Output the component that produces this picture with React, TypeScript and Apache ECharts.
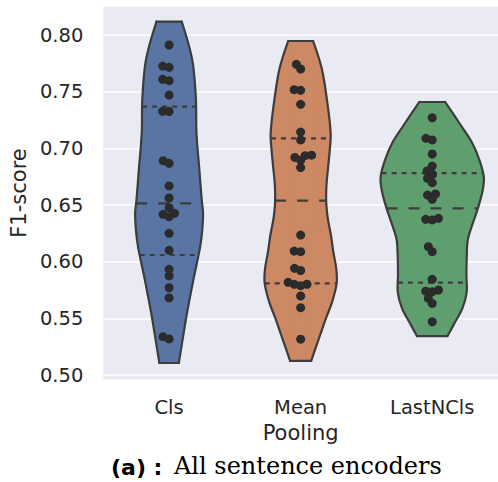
import React, { useEffect, useRef } from "react";
import * as echarts from "echarts";

const categories = ["Cls", "Mean", "LastNCls"];
const violinColors = ["#5975a4", "#cc8963", "#5f9e6e"];

// F1-scores of the individual encoders (swarm points)
const clsScores = [0.7912, 0.7726, 0.7715, 0.7609, 0.7597, 0.747, 0.7327, 0.7325, 0.6891, 0.6868, 0.6668, 0.6562, 0.6476, 0.6418, 0.6397, 0.6427, 0.625, 0.61, 0.5933, 0.5874, 0.577, 0.568, 0.5338, 0.5318];
const meanScores = [0.7741, 0.77, 0.7518, 0.7512, 0.7388, 0.7144, 0.7074, 0.6935, 0.692, 0.6895, 0.694, 0.683, 0.6235, 0.6094, 0.6088, 0.5941, 0.5922, 0.5818, 0.58, 0.5788, 0.5801, 0.5697, 0.5594, 0.5316];
const lastScores = [0.727, 0.7088, 0.7074, 0.695, 0.6844, 0.68, 0.6735, 0.677, 0.6697, 0.6588, 0.6597, 0.655, 0.6374, 0.6368, 0.6383, 0.6132, 0.6088, 0.5844, 0.575, 0.5735, 0.574, 0.5676, 0.5632, 0.547];

// violin outline: score levels (top to bottom) and relative density at each level
const clsProfileValues = [0.8119, 0.7883, 0.772, 0.7426, 0.7133, 0.6838, 0.6544, 0.6429, 0.6279, 0.6132, 0.5838, 0.5547, 0.525, 0.5106];
const clsProfileDensity = [0.24, 0.39, 0.46, 0.51, 0.52, 0.57, 0.62, 0.645, 0.63, 0.59, 0.46, 0.34, 0.235, 0.185];
const meanProfileValues = [0.7947, 0.7706, 0.7426, 0.7135, 0.697, 0.6824, 0.6676, 0.6529, 0.6383, 0.6235, 0.6088, 0.5944, 0.5812, 0.5647, 0.55, 0.5353, 0.5206, 0.5124];
const meanProfileDensity = [0.237, 0.4, 0.5, 0.57, 0.55, 0.52, 0.49, 0.485, 0.515, 0.575, 0.62, 0.675, 0.685, 0.6, 0.48, 0.37, 0.26, 0.2];
const lastProfileValues = [0.7409, 0.7206, 0.7056, 0.6906, 0.675, 0.6632, 0.6474, 0.6324, 0.6191, 0.6032, 0.5882, 0.5732, 0.5591, 0.5459, 0.5344];
const lastProfileDensity = [0.246, 0.54, 0.75, 0.89, 0.98, 0.96, 0.87, 0.76, 0.675, 0.655, 0.65, 0.655, 0.575, 0.425, 0.29];

// quartiles [Q1, median, Q3]
const clsQuartiles = [0.6059, 0.6515, 0.7368];
const meanQuartiles = [0.5809, 0.6538, 0.7088];
const lastQuartiles = [0.5815, 0.6471, 0.6782];

const yMin = 0.4956;
const yMax = 0.8256;

const scores = [clsScores, meanScores, lastScores];
const profileValues = [clsProfileValues, meanProfileValues, lastProfileValues];
const profileDensity = [clsProfileDensity, meanProfileDensity, lastProfileDensity];
const quartiles = [clsQuartiles, meanQuartiles, lastQuartiles];

const EDGE = "#3d3d3d";
const DOT = "#2b2b2b";

function densityAt(vals: number[], dens: number[], v: number): number {
  for (let i = 0; i < vals.length - 1; i++) {
    const a = vals[i], b = vals[i + 1];
    if ((v <= a && v >= b) || (v >= a && v <= b)) {
      const t = (v - a) / (b - a);
      return dens[i] + t * (dens[i + 1] - dens[i]);
    }
  }
  return 0;
}

function swarm(ys: number[], values: number[], d: number): number[] {
  const order = values.map((_, i) => i).sort((a, b) => values[a] - values[b]);
  const placed: { x: number; y: number }[] = [];
  const offs: number[] = new Array(ys.length).fill(0);
  for (const idx of order) {
    const y = ys[idx];
    const neighbors = placed.filter((p) => Math.abs(p.y - y) < d);
    const cands: number[] = [0];
    let leftFirst = true;
    for (const n of neighbors) {
      const dy = y - n.y;
      const dx = Math.sqrt(Math.max(d * d - dy * dy, 0)) * 1.05;
      const cl = n.x - dx, cr = n.x + dx;
      if (leftFirst) cands.push(cl, cr);
      else cands.push(cr, cl);
      leftFirst = !leftFirst;
    }
    const sorted = cands.map((c, i) => ({ c, i })).sort((a, b) => Math.abs(a.c) - Math.abs(b.c) || a.i - b.i);
    let chosen = sorted[0].c;
    for (const s of sorted) {
      const ok = neighbors.every((n) => Math.hypot(n.x - s.c, n.y - y) >= d * 0.999);
      if (ok) {
        chosen = s.c;
        break;
      }
    }
    placed.push({ x: chosen, y });
    offs[idx] = chosen;
  }
  return offs;
}

function makeSeries(ci: number) {
  return {
    type: "custom",
    coordinateSystem: "cartesian2d",
    clip: false,
    data: [[ci, quartiles[ci][1]]],
    encode: { x: 0, y: 1 },
    renderItem: (params: any, api: any) => {
      const band = api.size([1, 0])[0];
      const maxHalf = band * 0.4;
      const vals = profileValues[ci];
      const dens = profileDensity[ci];
      const cx = api.coord([ci, vals[0]])[0];
      const right: number[][] = [];
      const left: number[][] = [];
      for (let i = 0; i < vals.length; i++) {
        const p = api.coord([ci, vals[i]]);
        right.push([cx + dens[i] * maxHalf, p[1]]);
        left.push([cx - dens[i] * maxHalf, p[1]]);
      }
      const n = vals.length;
      const topY = right[0][1];
      const botY = right[n - 1][1];
      const leftUp = left.slice().reverse();
      const children: any[] = [
        // fill
        {
          type: "polygon",
          shape: { points: right.concat(leftUp), smooth: 0 },
          style: { fill: violinColors[ci], stroke: violinColors[ci], lineWidth: 1 },
        },
        // smooth right and left sides
        {
          type: "polyline",
          shape: { points: right, smooth: 0.35 },
          style: { fill: violinColors[ci], stroke: "none" },
        },
        {
          type: "polyline",
          shape: { points: left, smooth: 0.35 },
          style: { fill: violinColors[ci], stroke: "none" },
        },
        {
          type: "polyline",
          shape: { points: right, smooth: 0.35 },
          style: { fill: "none", stroke: EDGE, lineWidth: 2.2, lineCap: "round" },
        },
        {
          type: "polyline",
          shape: { points: left, smooth: 0.35 },
          style: { fill: "none", stroke: EDGE, lineWidth: 2.2, lineCap: "round" },
        },
        {
          type: "line",
          shape: { x1: left[0][0], y1: topY, x2: right[0][0], y2: topY },
          style: { stroke: EDGE, lineWidth: 2.2, lineCap: "round" },
        },
        {
          type: "line",
          shape: { x1: left[n - 1][0], y1: botY, x2: right[n - 1][0], y2: botY },
          style: { stroke: EDGE, lineWidth: 2.2, lineCap: "round" },
        },
      ];
      quartiles[ci].forEach((q, qi) => {
        const hw = densityAt(vals, dens, q) * maxHalf;
        const y = api.coord([ci, q])[1];
        children.push({
          type: "line",
          shape: { x1: cx - hw, y1: y, x2: cx + hw, y2: y },
          style: { stroke: EDGE, lineWidth: 2.2, lineDash: qi === 1 ? [11, 11] : [5, 5] },
        });
      });
      const ys = scores[ci].map((v) => api.coord([ci, v])[1]);
      const offs = swarm(ys, scores[ci], 6.2);
      ys.forEach((y, i) => {
        children.push({
          type: "circle",
          shape: { cx: cx + offs[i], cy: y, r: 4.5 },
          style: { fill: DOT },
        });
      });
      return { type: "group", children };
    },
  };
}

export default function App() {
  const ref = useRef<HTMLDivElement>(null);
  useEffect(() => {
    if (!ref.current) return;
    const chart = echarts.init(ref.current, undefined, { renderer: "svg" });
    const font = "DejaVu Sans";
    chart.setOption({
      animation: false,
      backgroundColor: "#ffffff",
      grid: {
        left: 102,
        top: 6,
        width: 404,
        height: 374,
        show: true,
        backgroundColor: "#eaeaf2",
        borderWidth: 0,
      },
      xAxis: {
        type: "category",
        data: categories,
        axisLine: { show: false },
        axisTick: { show: false },
        splitLine: { show: false },
        axisLabel: { color: "#262626", fontSize: 19.5, fontFamily: font, margin: 17 },
        name: "Pooling",
        nameLocation: "middle",
        nameGap: 42,
        nameTextStyle: { color: "#262626", fontSize: 21, fontFamily: font },
      },
      yAxis: {
        type: "value",
        min: yMin,
        max: yMax,
        axisLine: { show: false },
        axisTick: { show: false },
        splitLine: { show: true, lineStyle: { color: "#ffffff", width: 1.6 } },
        axisLabel: {
          color: "#262626",
          fontSize: 19.5,
          fontFamily: font,
          margin: 20,
          showMinLabel: false,
          showMaxLabel: false,
          formatter: (v: number) => v.toFixed(2),
        },
        name: "F1-score",
        nameLocation: "middle",
        nameRotate: 90,
        nameGap: 74,
        nameTextStyle: { color: "#262626", fontSize: 21, fontFamily: font },
      },
      graphic: [
        {
          type: "text",
          x: 111,
          y: 467,
          style: {
            text: "(a) :",
            fill: "#000000",
            font: "bold 22px 'DejaVu Sans'",
            textAlign: "left",
            textVerticalAlign: "middle",
          },
        },
        {
          type: "text",
          x: 174,
          y: 466,
          style: {
            text: "All sentence encoders",
            fill: "#000000",
            font: "24px 'DejaVu Serif'",
            textAlign: "left",
            textVerticalAlign: "middle",
          },
        },
      ],
      series: [makeSeries(0), makeSeries(1), makeSeries(2)],
    });
    return () => chart.dispose();
  }, []);
  return (
    <div
      ref={ref}
      style={{ position: "fixed", left: 0, top: 0, width: 498, height: 482 }}
    />
  );
}
